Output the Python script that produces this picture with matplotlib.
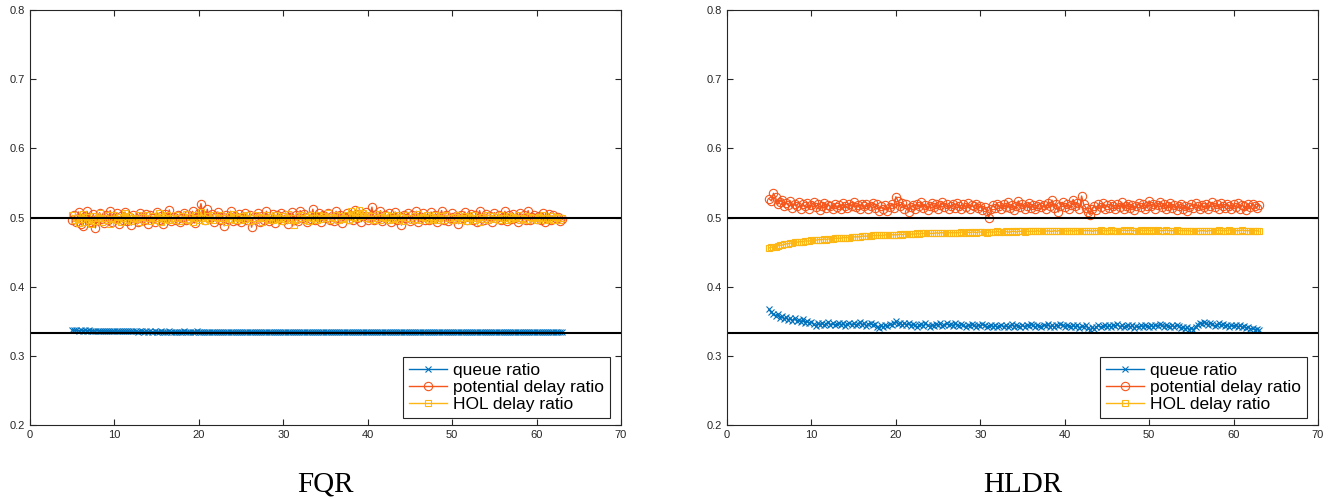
import numpy as np
import matplotlib.pyplot as plt

# each series is sampled every 0.25 s from t = 5 s to t = 63 s
t_start, t_end = 5, 63

fqr_queue = [
    0.3375, 0.3368, 0.3372, 0.3365, 0.3370, 0.3366, 0.3369, 0.3363, 0.3367, 0.3362,
    0.3365, 0.3360, 0.3363, 0.3359, 0.3362, 0.3358, 0.3360, 0.3357, 0.3359, 0.3356,
    0.3358, 0.3355, 0.3357, 0.3354, 0.3356, 0.3353, 0.3355, 0.3353, 0.3354, 0.3352,
    0.3353, 0.3351, 0.3353, 0.3352, 0.3350, 0.3352, 0.3351, 0.3353, 0.3350, 0.3352,
    0.3351, 0.3350, 0.3352, 0.3349, 0.3351, 0.3350, 0.3352, 0.3349, 0.3351, 0.3350,
    0.3349, 0.3351, 0.3350, 0.3352, 0.3349, 0.3350, 0.3351, 0.3349, 0.3350, 0.3352,
    0.3350, 0.3349, 0.3351, 0.3350, 0.3348, 0.3351, 0.3349, 0.3350, 0.3351, 0.3349,
    0.3350, 0.3351, 0.3349, 0.3350, 0.3348, 0.3350, 0.3351, 0.3349, 0.3350, 0.3349,
    0.3351, 0.3350, 0.3348, 0.3350, 0.3349, 0.3351, 0.3350, 0.3349, 0.3350, 0.3348,
    0.3350, 0.3349, 0.3351, 0.3350, 0.3349, 0.3348, 0.3350, 0.3349, 0.3351, 0.3350,
    0.3349, 0.3350, 0.3348, 0.3350, 0.3349, 0.3350, 0.3351, 0.3349, 0.3350, 0.3348,
    0.3349, 0.3350, 0.3349, 0.3351, 0.3348, 0.3350, 0.3349, 0.3350, 0.3348, 0.3349,
    0.3350, 0.3348, 0.3349, 0.3350, 0.3349, 0.3351, 0.3348, 0.3349, 0.3350, 0.3349,
    0.3348, 0.3350, 0.3349, 0.3350, 0.3348, 0.3349, 0.3350, 0.3349, 0.3348, 0.3350,
    0.3349, 0.3350, 0.3348, 0.3349, 0.3351, 0.3349, 0.3348, 0.3350, 0.3349, 0.3350,
    0.3348, 0.3349, 0.3350, 0.3348, 0.3349, 0.3350, 0.3349, 0.3348, 0.3350, 0.3349,
    0.3350, 0.3348, 0.3349, 0.3350, 0.3348, 0.3349, 0.3350, 0.3349, 0.3348, 0.3349,
    0.3350, 0.3349, 0.3348, 0.3350, 0.3349, 0.3348, 0.3349, 0.3350, 0.3348, 0.3349,
    0.3349, 0.3350, 0.3348, 0.3349, 0.3350, 0.3348, 0.3349, 0.3348, 0.3350, 0.3349,
    0.3348, 0.3349, 0.3350, 0.3348, 0.3349, 0.3348, 0.3350, 0.3349, 0.3348, 0.3349,
    0.3350, 0.3348, 0.3349, 0.3348, 0.3350, 0.3349, 0.3348, 0.3349, 0.3348, 0.3350,
    0.3349, 0.3348, 0.3349, 0.3350, 0.3348, 0.3349, 0.3348, 0.3349, 0.3350, 0.3348,
    0.3349, 0.3348, 0.3350, 0.3349, 0.3348, 0.3349, 0.3348, 0.3349, 0.3350, 0.3348,
    0.3349, 0.3348, 0.3349,
]
fqr_potential = [
    0.497, 0.503, 0.494, 0.508, 0.491, 0.488, 0.502, 0.509, 0.496, 0.493,
    0.505, 0.485, 0.500, 0.507, 0.498, 0.492, 0.503, 0.496, 0.510, 0.494,
    0.499, 0.506, 0.490, 0.502, 0.497, 0.508, 0.495, 0.501, 0.489, 0.504,
    0.498, 0.493, 0.507, 0.500, 0.496, 0.505, 0.491, 0.503, 0.499, 0.494,
    0.508, 0.497, 0.502, 0.490, 0.505, 0.499, 0.511, 0.495, 0.501, 0.497,
    0.504, 0.493, 0.500, 0.506, 0.496, 0.503, 0.498, 0.509, 0.492, 0.501,
    0.507, 0.520, 0.503, 0.497, 0.512, 0.499, 0.505, 0.494, 0.502, 0.508,
    0.496, 0.501, 0.488, 0.504, 0.498, 0.509, 0.495, 0.502, 0.497, 0.505,
    0.493, 0.500, 0.507, 0.496, 0.503, 0.486, 0.501, 0.498, 0.506, 0.494,
    0.502, 0.497, 0.509, 0.495, 0.500, 0.505, 0.492, 0.503, 0.499, 0.507,
    0.496, 0.504, 0.491, 0.501, 0.508, 0.497, 0.503, 0.495, 0.510, 0.499,
    0.505, 0.493, 0.502, 0.498, 0.512, 0.496, 0.501, 0.507, 0.494, 0.503,
    0.499, 0.506, 0.497, 0.502, 0.495, 0.509, 0.500, 0.504, 0.492, 0.501,
    0.507, 0.498, 0.503, 0.496, 0.511, 0.499, 0.505, 0.494, 0.502, 0.508,
    0.497, 0.501, 0.515, 0.496, 0.504, 0.499, 0.510, 0.495, 0.503, 0.498,
    0.506, 0.493, 0.500, 0.508, 0.497, 0.502, 0.489, 0.504, 0.499, 0.507,
    0.495, 0.503, 0.498, 0.509, 0.494, 0.501, 0.506, 0.497, 0.502, 0.496,
    0.508, 0.499, 0.504, 0.493, 0.501, 0.510, 0.497, 0.503, 0.495, 0.500,
    0.506, 0.498, 0.502, 0.491, 0.504, 0.499, 0.508, 0.496, 0.501, 0.505,
    0.497, 0.503, 0.494, 0.510, 0.500, 0.496, 0.505, 0.498, 0.502, 0.493,
    0.507, 0.499, 0.504, 0.496, 0.501, 0.509, 0.495, 0.503, 0.498, 0.505,
    0.500, 0.494, 0.506, 0.499, 0.503, 0.497, 0.510, 0.496, 0.501, 0.504,
    0.498, 0.502, 0.496, 0.507, 0.493, 0.500, 0.505, 0.497, 0.503, 0.499,
    0.501, 0.495, 0.498,
]
fqr_hol = [
    0.503, 0.496, 0.500, 0.492, 0.498, 0.505, 0.494, 0.501, 0.497, 0.490,
    0.502, 0.495, 0.499, 0.506, 0.493, 0.500, 0.497, 0.503, 0.491, 0.498,
    0.504, 0.496, 0.501, 0.494, 0.499, 0.507, 0.497, 0.502, 0.495, 0.500,
    0.498, 0.503, 0.493, 0.501, 0.496, 0.504, 0.499, 0.495, 0.502, 0.497,
    0.500, 0.506, 0.494, 0.501, 0.498, 0.503, 0.496, 0.500, 0.497, 0.504,
    0.499, 0.495, 0.502, 0.498, 0.505, 0.496, 0.501, 0.494, 0.503, 0.499,
    0.497, 0.508, 0.500, 0.495, 0.502, 0.498, 0.504, 0.496, 0.501, 0.499,
    0.503, 0.497, 0.500, 0.494, 0.502, 0.498, 0.505, 0.496, 0.501, 0.499,
    0.496, 0.502, 0.498, 0.504, 0.495, 0.500, 0.497, 0.503, 0.499, 0.501,
    0.494, 0.500, 0.503, 0.497, 0.501, 0.496, 0.504, 0.498, 0.500, 0.495,
    0.502, 0.498, 0.505, 0.497, 0.500, 0.489, 0.496, 0.502, 0.499, 0.503,
    0.497, 0.501, 0.495, 0.504, 0.499, 0.500, 0.496, 0.503, 0.498, 0.502,
    0.500, 0.506, 0.497, 0.501, 0.499, 0.504, 0.496, 0.502, 0.498, 0.500,
    0.503, 0.497, 0.509, 0.501, 0.505, 0.499, 0.511, 0.502, 0.507, 0.500,
    0.504, 0.498, 0.502, 0.496, 0.500, 0.505, 0.497, 0.501, 0.499, 0.503,
    0.496, 0.502, 0.498, 0.500, 0.504, 0.497, 0.501, 0.495, 0.503, 0.499,
    0.500, 0.497, 0.502, 0.498, 0.505, 0.496, 0.501, 0.499, 0.503, 0.497,
    0.501, 0.498, 0.504, 0.496, 0.500, 0.502, 0.497, 0.503, 0.499, 0.500,
    0.496, 0.501, 0.498, 0.504, 0.497, 0.500, 0.502, 0.495, 0.501, 0.499,
    0.503, 0.497, 0.500, 0.493, 0.501, 0.498, 0.504, 0.496, 0.500, 0.502,
    0.498, 0.501, 0.497, 0.503, 0.499, 0.500, 0.496, 0.502, 0.498, 0.501,
    0.499, 0.503, 0.497, 0.500, 0.498, 0.502, 0.496, 0.501, 0.499, 0.500,
    0.497, 0.501, 0.499, 0.503, 0.496, 0.500, 0.498, 0.502, 0.497, 0.501,
    0.499, 0.496, 0.500,
]

hldr_queue = [
    0.367, 0.363, 0.360, 0.358, 0.361, 0.355, 0.357, 0.353, 0.356, 0.352,
    0.354, 0.351, 0.355, 0.350, 0.352, 0.349, 0.353, 0.348, 0.350, 0.347,
    0.349, 0.346, 0.343, 0.347, 0.345, 0.348, 0.344, 0.346, 0.349, 0.345,
    0.347, 0.344, 0.346, 0.348, 0.345, 0.347, 0.343, 0.346, 0.348, 0.345,
    0.347, 0.344, 0.346, 0.349, 0.345, 0.347, 0.343, 0.346, 0.348, 0.344,
    0.346, 0.342, 0.340, 0.344, 0.341, 0.345, 0.343, 0.346, 0.344, 0.347,
    0.350, 0.346, 0.348, 0.344, 0.347, 0.345, 0.348, 0.343, 0.346, 0.344,
    0.341, 0.344, 0.346, 0.343, 0.347, 0.344, 0.342, 0.345, 0.343, 0.346,
    0.344, 0.347, 0.343, 0.345, 0.348, 0.344, 0.346, 0.343, 0.347, 0.345,
    0.343, 0.346, 0.344, 0.341, 0.345, 0.343, 0.346, 0.344, 0.342, 0.345,
    0.343, 0.346, 0.344, 0.341, 0.343, 0.345, 0.342, 0.344, 0.341, 0.343,
    0.345, 0.342, 0.344, 0.341, 0.343, 0.346, 0.342, 0.345, 0.343, 0.341,
    0.344, 0.342, 0.345, 0.343, 0.346, 0.344, 0.341, 0.345, 0.343, 0.342,
    0.345, 0.343, 0.346, 0.342, 0.344, 0.341, 0.345, 0.343, 0.346, 0.344,
    0.342, 0.345, 0.343, 0.341, 0.344, 0.342, 0.345, 0.340, 0.343, 0.341,
    0.344, 0.340, 0.337, 0.341, 0.339, 0.342, 0.344, 0.341, 0.343, 0.345,
    0.342, 0.344, 0.341, 0.345, 0.343, 0.346, 0.342, 0.344, 0.341, 0.343,
    0.345, 0.342, 0.344, 0.340, 0.343, 0.341, 0.344, 0.342, 0.345, 0.343,
    0.341, 0.344, 0.342, 0.345, 0.343, 0.346, 0.344, 0.342, 0.345, 0.343,
    0.341, 0.344, 0.342, 0.345, 0.343, 0.340, 0.342, 0.339, 0.341, 0.338,
    0.340, 0.338, 0.342, 0.345, 0.348, 0.346, 0.349, 0.347, 0.345, 0.348,
    0.346, 0.343, 0.345, 0.347, 0.344, 0.346, 0.343, 0.345, 0.342, 0.344,
    0.343, 0.345, 0.342, 0.344, 0.341, 0.343, 0.340, 0.342, 0.339, 0.340,
    0.338, 0.339, 0.337,
]
hldr_potential = [
    0.527, 0.524, 0.535, 0.529, 0.519, 0.523, 0.526, 0.516, 0.521, 0.518,
    0.524, 0.514, 0.520, 0.517, 0.522, 0.513, 0.519, 0.516, 0.521, 0.512,
    0.518, 0.522, 0.515, 0.519, 0.511, 0.517, 0.521, 0.514, 0.518, 0.516,
    0.513, 0.520, 0.515, 0.518, 0.512, 0.521, 0.516, 0.514, 0.519, 0.517,
    0.522, 0.515, 0.518, 0.513, 0.520, 0.516, 0.519, 0.512, 0.517, 0.521,
    0.514, 0.519, 0.510, 0.516, 0.513, 0.518, 0.509, 0.515, 0.520, 0.514,
    0.530, 0.524, 0.517, 0.521, 0.513, 0.519, 0.508, 0.515, 0.518, 0.512,
    0.520, 0.516, 0.522, 0.514, 0.518, 0.511, 0.517, 0.521, 0.515, 0.519,
    0.513, 0.518, 0.522, 0.515, 0.520, 0.512, 0.517, 0.519, 0.514, 0.521,
    0.516, 0.512, 0.519, 0.515, 0.521, 0.513, 0.518, 0.516, 0.520, 0.514,
    0.517, 0.511, 0.515, 0.509, 0.500, 0.512, 0.518, 0.514, 0.520, 0.516,
    0.513, 0.519, 0.515, 0.522, 0.514, 0.518, 0.511, 0.517, 0.524, 0.515,
    0.519, 0.513, 0.517, 0.521, 0.514, 0.518, 0.512, 0.516, 0.520, 0.515,
    0.518, 0.512, 0.521, 0.516, 0.525, 0.514, 0.519, 0.508, 0.517, 0.522,
    0.515, 0.520, 0.513, 0.518, 0.526, 0.517, 0.521, 0.512, 0.531, 0.519,
    0.514, 0.508, 0.504, 0.513, 0.517, 0.511, 0.519, 0.515, 0.521, 0.513,
    0.518, 0.514, 0.520, 0.516, 0.512, 0.519, 0.515, 0.522, 0.513, 0.517,
    0.520, 0.514, 0.518, 0.511, 0.516, 0.521, 0.515, 0.519, 0.513, 0.517,
    0.524, 0.516, 0.520, 0.513, 0.518, 0.522, 0.515, 0.519, 0.512, 0.517,
    0.521, 0.514, 0.518, 0.511, 0.516, 0.520, 0.513, 0.517, 0.510, 0.515,
    0.519, 0.514, 0.521, 0.516, 0.512, 0.518, 0.515, 0.520, 0.513, 0.517,
    0.522, 0.515, 0.519, 0.513, 0.521, 0.517, 0.514, 0.520, 0.516, 0.512,
    0.519, 0.515, 0.521, 0.513, 0.518, 0.516, 0.511, 0.519, 0.515, 0.520,
    0.517, 0.514, 0.518,
]
hldr_hol = [
    0.456, 0.457, 0.458, 0.458, 0.459, 0.460, 0.460, 0.461, 0.462, 0.462,
    0.463, 0.463, 0.464, 0.464, 0.465, 0.465, 0.465, 0.466, 0.466, 0.466,
    0.467, 0.467, 0.467, 0.468, 0.468, 0.468, 0.469, 0.468, 0.469, 0.469,
    0.469, 0.470, 0.470, 0.470, 0.470, 0.471, 0.471, 0.471, 0.471, 0.472,
    0.472, 0.472, 0.472, 0.472, 0.473, 0.473, 0.473, 0.473, 0.473, 0.474,
    0.474, 0.474, 0.474, 0.474, 0.474, 0.475, 0.474, 0.475, 0.475, 0.475,
    0.475, 0.475, 0.476, 0.475, 0.476, 0.476, 0.476, 0.476, 0.476, 0.476,
    0.477, 0.476, 0.477, 0.477, 0.477, 0.477, 0.477, 0.477, 0.477, 0.478,
    0.477, 0.478, 0.478, 0.477, 0.478, 0.478, 0.478, 0.478, 0.478, 0.478,
    0.478, 0.479, 0.478, 0.478, 0.479, 0.478, 0.479, 0.479, 0.478, 0.479,
    0.479, 0.479, 0.479, 0.478, 0.479, 0.479, 0.479, 0.479, 0.480, 0.479,
    0.479, 0.479, 0.480, 0.479, 0.479, 0.480, 0.480, 0.479, 0.480, 0.480,
    0.480, 0.479, 0.480, 0.480, 0.480, 0.480, 0.480, 0.481, 0.480, 0.480,
    0.480, 0.480, 0.481, 0.480, 0.480, 0.481, 0.480, 0.481, 0.480, 0.481,
    0.481, 0.480, 0.481, 0.481, 0.480, 0.481, 0.481, 0.481, 0.480, 0.481,
    0.481, 0.481, 0.481, 0.480, 0.481, 0.481, 0.481, 0.482, 0.481, 0.481,
    0.481, 0.481, 0.482, 0.481, 0.481, 0.481, 0.481, 0.481, 0.482, 0.481,
    0.481, 0.482, 0.481, 0.481, 0.481, 0.481, 0.482, 0.481, 0.481, 0.482,
    0.481, 0.481, 0.482, 0.481, 0.482, 0.481, 0.481, 0.481, 0.482, 0.481,
    0.481, 0.481, 0.481, 0.482, 0.481, 0.481, 0.481, 0.481, 0.481, 0.481,
    0.480, 0.481, 0.481, 0.480, 0.481, 0.481, 0.481, 0.480, 0.481, 0.481,
    0.481, 0.481, 0.481, 0.482, 0.481, 0.481, 0.481, 0.481, 0.482, 0.481,
    0.481, 0.481, 0.481, 0.481, 0.482, 0.481, 0.481, 0.481, 0.481, 0.481,
    0.481, 0.481, 0.480,
]

panels = [
    ('FQR', fqr_queue, fqr_potential, fqr_hol),
    ('HLDR', hldr_queue, hldr_potential, hldr_hol),
]
labels = ['queue ratio', 'potential delay ratio', 'HOL delay ratio']
colors = ['#0072BD', '#F5561C', '#FDB714']
markers = ['x', 'o', 's']
marker_sizes = [4, 6, 4.5]

plt.rcParams['font.family'] = ['Liberation Sans', 'DejaVu Sans']

fig = plt.figure(figsize=(13.34, 4.99), dpi=100)
lefts = [30 / 1334, 727 / 1334]
ax_w = 591 / 1334
for (name, q, p, h), left in zip(panels, lefts):
    ax = fig.add_axes([left, 1 - 425 / 499, ax_w, 415 / 499])
    for y, lab, c, m, ms in zip([q, p, h], labels, colors, markers, marker_sizes):
        t = np.linspace(t_start, t_end, len(y))
        ax.plot(t, y, color=c, marker=m, markersize=ms, markerfacecolor='none',
                markeredgewidth=0.8, linewidth=1.0, label=lab)
    ax.axhline(0.5, color='black', linewidth=1.5)
    ax.axhline(1 / 3, color='black', linewidth=1.5)
    ax.set_xlim(0, 70)
    ax.set_ylim(0.2, 0.8)
    ax.set_xticks(np.arange(0, 71, 10))
    ax.set_yticks(np.arange(0.2, 0.81, 0.1))
    ax.set_yticklabels(['0.2', '0.3', '0.4', '0.5', '0.6', '0.7', '0.8'])
    ax.tick_params(direction='in', top=True, right=True, labelsize=8,
                   colors='#262626', length=4, width=0.8)
    for s in ax.spines.values():
        s.set_color('#262626')
        s.set_linewidth(0.8)
    leg = ax.legend(loc='lower right', bbox_to_anchor=(0.981, 0.017),
                    borderaxespad=0, fontsize=12.5, handlelength=2.2,
                    labelspacing=0.1, fancybox=False, framealpha=1,
                    edgecolor='#262626', borderpad=0.35, handletextpad=0.3)
    leg.get_frame().set_linewidth(0.8)
    fig.text(left + ax_w / 2, 1 - 492 / 499, name, ha='center', va='baseline',
             fontsize=21, family='Liberation Serif')

fig.savefig('out.png', dpi=100)
